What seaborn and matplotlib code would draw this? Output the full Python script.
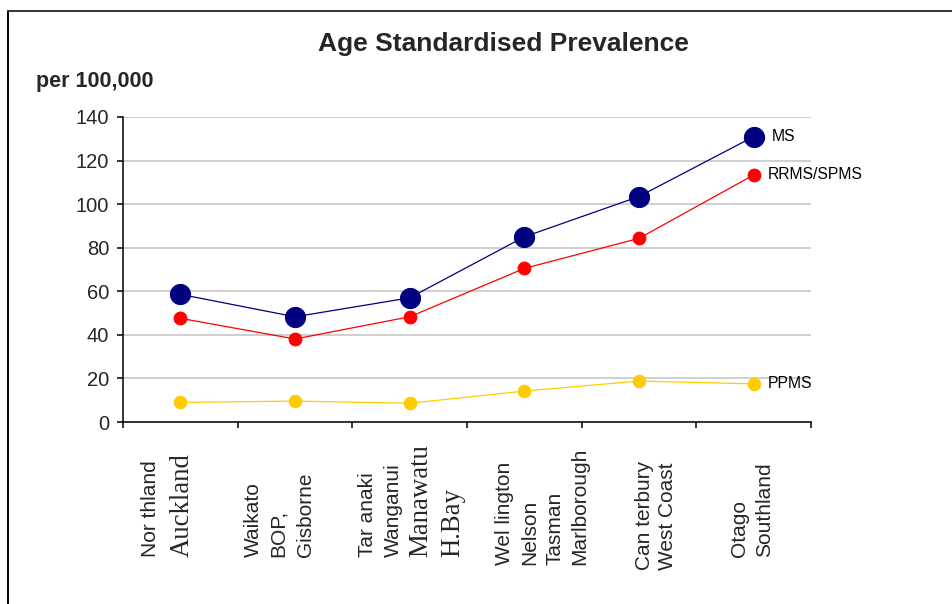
import matplotlib
matplotlib.use("Agg")
import matplotlib.pyplot as plt
from matplotlib.lines import Line2D
import seaborn as sns
import pandas as pd
import numpy as np

# ---------------- data ----------------
regions = ["Northland/Auckland", "Waikato/BOP/Gisborne", "Taranaki/Wanganui/Manawatu/H.Bay",
           "Wellington/Nelson/Tasman/Marlborough", "Canterbury/West Coast", "Otago/Southland"]
ms_values = [58.6, 48.3, 57.0, 85.0, 103.5, 131.0]
rrms_spms_values = [47.6, 38.1, 48.3, 70.5, 84.3, 113.4]
ppms_values = [9.0, 9.6, 8.6, 14.2, 18.8, 17.5]
series_names = ["MS", "RRMS/SPMS", "PPMS"]

# tick label lines (each region label is shown as several rotated lines)
label_lines = [
    ["Nor thland", "Auckland"],
    ["Waikato", "BOP,", "Gisborne"],
    ["Tar anaki", "Wanganui", "Manawatu", "H.Bay"],
    ["Wel lington", "Nelson", "Tasman", "Marlborough"],
    ["Can terbury", "West Coast"],
    ["Otago", "Southland"],
]
serif_lines = {"Auckland", "Manawatu", "H.Bay"}

y_ticks = [0, 20, 40, 60, 80, 100, 120, 140]
title = "Age Standardised Prevalence"
y_unit = "per 100,000"

# ---------------- layout ----------------
W, H = 953, 604
DPI = 100
# pixel x centers of each label line, and pixel y of the bottom (text start) per group
line_px = [[151, 182], [253, 278, 305], [368, 393, 421, 453],
           [505, 530, 555, 580], [645, 668], [740, 765]]
group_bottom_px = [557, 557, 557, 565, 570, 557]

sns.set_style("white")
plt.rcParams["font.family"] = ["Liberation Sans", "DejaVu Sans"]

fig = plt.figure(figsize=(W / DPI, H / DPI), dpi=DPI)
fig.patch.set_facecolor("white")
ax_l, ax_r, ax_t, ax_b = 123, 811, 117, 422
ax = fig.add_axes([ax_l / W, 1 - ax_b / H, (ax_r - ax_l) / W, (ax_b - ax_t) / H])

x = np.arange(len(regions))
df = pd.DataFrame({"x": x, "MS": ms_values, "RRMS/SPMS": rrms_spms_values, "PPMS": ppms_values})

styles = {
    "MS": dict(color="#000080", markersize=14.5),
    "RRMS/SPMS": dict(color="#FF0000", markersize=9.2),
    "PPMS": dict(color="#FFCC00", markersize=9.0),
}
ax.set_ylim(0, 140)
ax.set_xlim(-0.5, len(regions) - 0.5)
ax.set_yticks(y_ticks)
ax.yaxis.grid(True, color="#cccccc", linewidth=1.3)
ax.set_axisbelow(True)

for name in ["PPMS", "RRMS/SPMS", "MS"]:
    st = styles[name]
    sns.lineplot(data=df, x="x", y=name, ax=ax, color=st["color"], marker="o",
                 markersize=st["markersize"], markeredgecolor=st["color"],
                 linewidth=0.9, legend=False)

# series labels at the right end
label_offsets = {"MS": 13, "RRMS/SPMS": 10, "PPMS": 10}
for name, vals in zip(series_names, [ms_values, rrms_spms_values, ppms_values]):
    ax.annotate(name, xy=(x[-1], vals[-1]), xytext=(label_offsets[name], 0),
                textcoords="offset points", ha="left", va="center", fontsize=11.3,
                color="black")

# axes styling
for s in ["top", "right"]:
    ax.spines[s].set_visible(False)
for s in ["left", "bottom"]:
    ax.spines[s].set_color("black")
    ax.spines[s].set_linewidth(1.1)
ax.set_xticks(np.arange(-0.5, len(regions), 1.0))
ax.set_xticklabels([])
ax.tick_params(axis="x", direction="out", length=4.5, width=1.1, color="black", bottom=True)
ax.tick_params(axis="y", direction="out", length=4.5, width=1.1, color="black", left=True,
               labelsize=14.5, pad=5.5)
ax.set_xlabel("")
ax.set_ylabel("")

# category label lines
for lines, xs, yb in zip(label_lines, line_px, group_bottom_px):
    for txt, px in zip(lines, xs):
        if txt in serif_lines:
            fig.text(px / W, 1 - yb / H, txt, rotation=90, ha="center", va="bottom",
                     fontsize=19.3, family=["Liberation Serif", "DejaVu Serif"])
        else:
            fig.text(px / W, 1 - yb / H, txt, rotation=90, ha="center", va="bottom",
                     fontsize=15)

# title and unit
fig.text(503.5 / W, 1 - 44 / H, title, ha="center", va="center", fontsize=19, fontweight="bold")
fig.text(36 / W, 1 - 82 / H, y_unit, ha="left", va="center", fontsize=15.5, fontweight="bold")

# frame border (top and left)
fig.add_artist(Line2D([8 / W, 8 / W], [0, 1 - 11 / H], transform=fig.transFigure,
                      color="black", linewidth=1.4))
fig.add_artist(Line2D([8 / W, 1], [1 - 11 / H, 1 - 11 / H], transform=fig.transFigure,
                      color="#333333", linewidth=1.4))

fig.savefig("out.png", dpi=DPI, facecolor="white")
